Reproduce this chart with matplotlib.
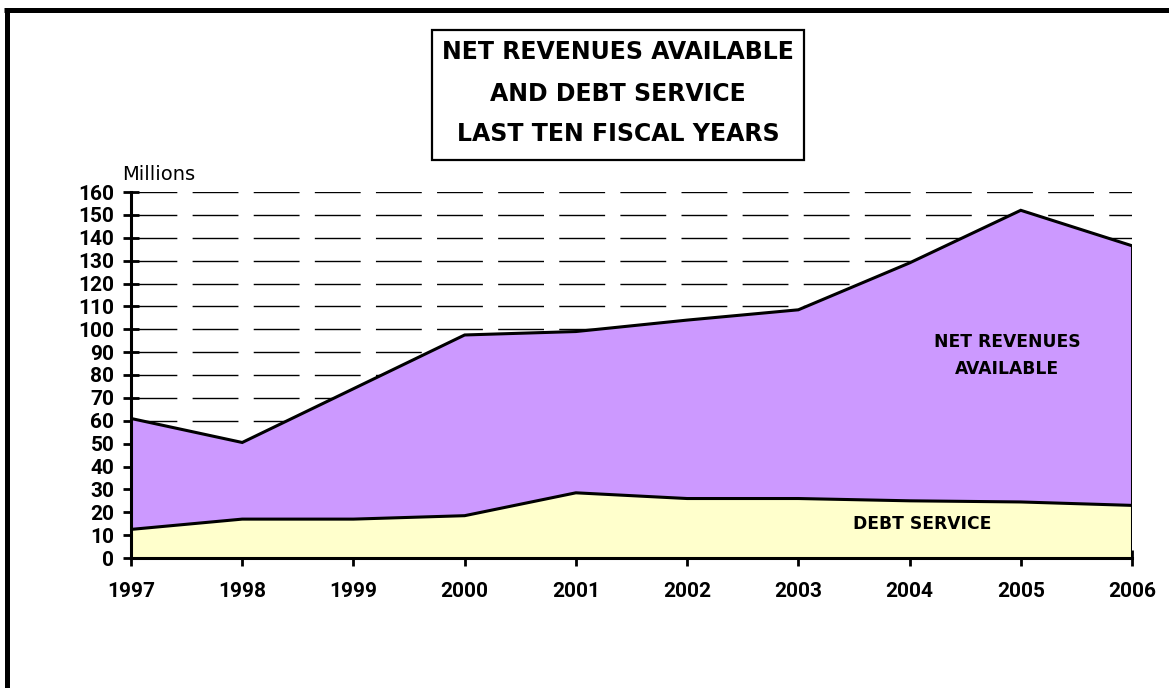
import matplotlib
matplotlib.use("Agg")
import matplotlib.pyplot as plt
from matplotlib.lines import Line2D
from matplotlib.patches import Rectangle

years = [1997, 1998, 1999, 2000, 2001, 2002, 2003, 2004, 2005, 2006]
net_revenues = [61, 50.5, 74, 97.5, 99, 104, 108.5, 129, 152, 136.5]
debt_service = [12.5, 17, 17, 18.5, 28.5, 26, 26, 25, 24.5, 23]
y_ticks = list(range(0, 161, 10))
title_lines = ["NET REVENUES AVAILABLE", "AND DEBT SERVICE", "LAST TEN FISCAL YEARS"]

TICKF = ['Roboto', 'DejaVu Sans']
WIDE = ['DejaVu Sans']
plt.rcParams['font.family'] = TICKF

W, H = 1169, 688
fig = plt.figure(figsize=(W / 100, H / 100), dpi=100)
fig.patch.set_facecolor('white')

def fx(px):
    return px / W

def fy(py):
    return 1 - py / H

ax = fig.add_axes([fx(131), fy(558), fx(1132) - fx(131), fy(192) - fy(558)])
ax.set_xlim(years[0], years[-1])
ax.set_ylim(0, 160)

purple = '#CC99FF'
yellow = '#FFFFCC'

ax.fill_between(years, 0, net_revenues, facecolor=purple, edgecolor='none', zorder=2)
ax.fill_between(years, 0, debt_service, facecolor=yellow, edgecolor='none', zorder=3)
ax.plot(years, net_revenues, color='black', lw=2.2, zorder=4, solid_joinstyle='miter')
ax.plot(years, debt_service, color='black', lw=2.2, zorder=4)
ax.plot([years[-1], years[-1]], [0, net_revenues[-1]], color='black', lw=2.2, zorder=4)

ax.set_yticks(y_ticks)
ax.set_xticks(years)
ax.set_xticklabels([str(y) for y in years])
for g in y_ticks[1:]:
    ax.axhline(g, color='black', lw=1.0, dashes=(33, 11), zorder=1)

for s in ['top', 'right']:
    ax.spines[s].set_visible(False)
for s in ['left', 'bottom']:
    ax.spines[s].set_linewidth(2.2)
    ax.spines[s].set_zorder(5)

ax.tick_params(axis='y', direction='inout', length=12, width=2, pad=6, labelsize=15)
ax.tick_params(axis='x', direction='inout', length=11, width=2, pad=12, labelsize=15)
for lab in ax.get_xticklabels() + ax.get_yticklabels():
    lab.set_fontweight('bold')
    lab.set_family(TICKF)

fig.text(fx(122), fy(180), "Millions", fontsize=14, ha='left', va='baseline',
         family=WIDE, fontweight='normal')

ax.text(0.875, 0.553, "NET REVENUES\nAVAILABLE", transform=ax.transAxes,
        ha='center', va='center', fontsize=12.3, fontweight='bold',
        linespacing=1.65, zorder=6, family=WIDE)
ax.text(0.79, 0.093, "DEBT SERVICE", transform=ax.transAxes,
        ha='center', va='center', fontsize=12.3, fontweight='bold', zorder=6,
        family=WIDE)

# title box
fig.add_artist(Rectangle((fx(432), fy(160)), fx(804) - fx(432), fy(30) - fy(160),
                         transform=fig.transFigure, facecolor='white',
                         edgecolor='black', lw=1.6))
for line, py in zip(title_lines, [52, 94, 134]):
    fig.text(fx(618), fy(py), line, ha='center', va='center', fontsize=17,
             fontweight='bold', family=WIDE)

# outer border (top and left)
fig.add_artist(Line2D([fx(4), 1], [fy(10), fy(10)], transform=fig.transFigure,
                      color='black', lw=3.6, solid_capstyle='butt'))
fig.add_artist(Line2D([fx(6.7), fx(6.7)], [fy(7.5), 0], transform=fig.transFigure,
                      color='black', lw=3.6, solid_capstyle='butt'))

fig.savefig('out.png', dpi=100)
